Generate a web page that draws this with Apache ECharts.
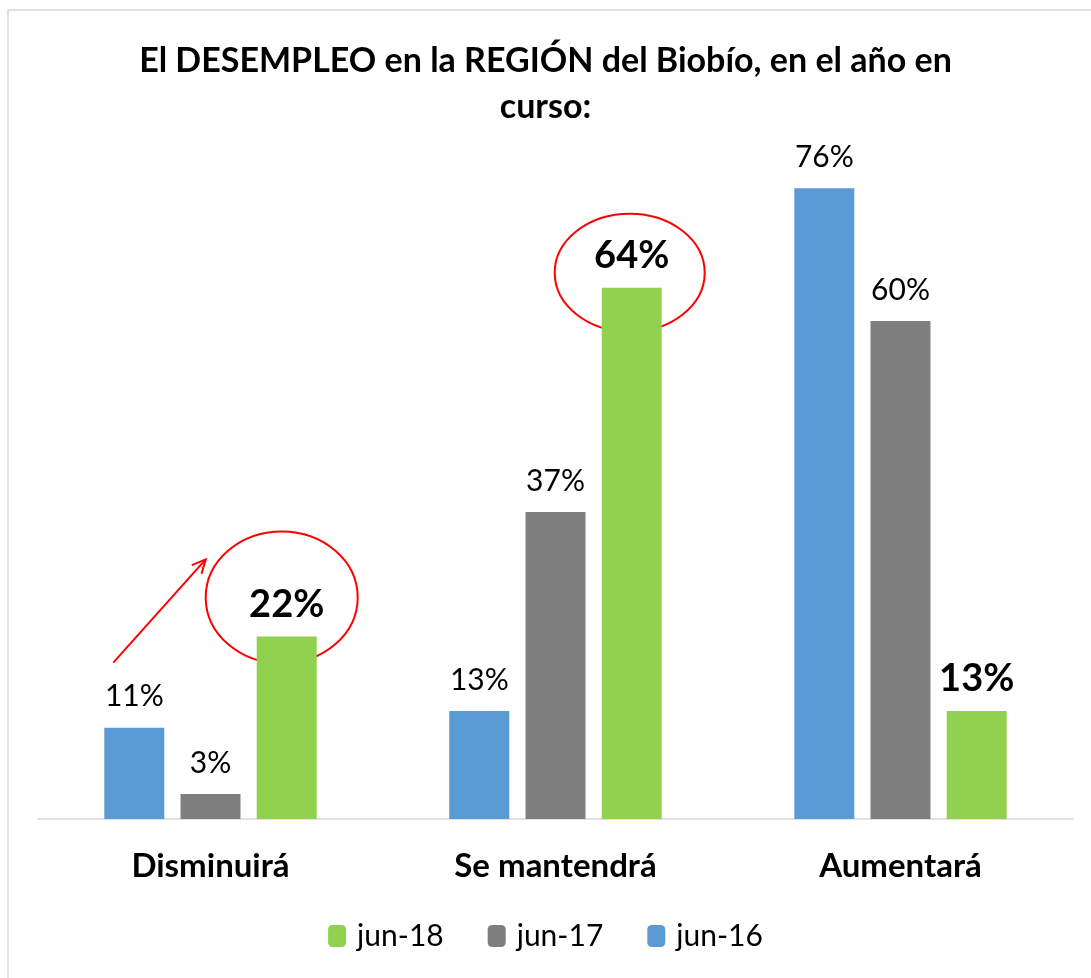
<!DOCTYPE html>
<html>
<head>
<meta charset="utf-8">
<script src="https://cdn.jsdelivr.net/npm/echarts@6/dist/echarts.min.js"></script>
<style>
  html, body { margin: 0; padding: 0; background: #fff; }
  #chart { width: 1091px; height: 978px; }
</style>
</head>
<body>
<div id="chart"></div>
<script>
// categorias y valores (%)
var categorias = ['Disminuirá', 'Se mantendrá', 'Aumentará'];
var jun16 = [11, 13, 76];
var jun17 = [3, 37, 60];
var jun18 = [22, 64, 13];
var ordenLeyenda = ['jun-18', 'jun-17', 'jun-16'];

var fuente = 'Lato, "Open Sans", sans-serif';
var anchoBarra = 60;
var separacion = 0.27; // barGap

var myChart = echarts.init(document.getElementById('chart'));

function etiqueta(bold, size, dist) {
	return {
		show: true,
		position: 'top',
		distance: dist,
		formatter: '{c}%',
		color: '#000',
		fontFamily: fuente,
		fontWeight: bold ? 'bold' : 'normal',
		fontSize: size
	};
}

var option = {
	color: ['#5B9BD5', '#7F7F7F', '#92D050'],
	title: {
		text: 'El DESEMPLEO en la REGIÓN del Biobío, en el año en\ncurso:',
		left: 'center',
		top: 33,
		textStyle: {
			fontFamily: fuente,
			fontWeight: 'bold',
			fontSize: 34,
			lineHeight: 46,
			color: '#000'
		}
	},
	legend: {
		data: ordenLeyenda,
		bottom: 22,
		left: 'center',
		itemWidth: 18,
		itemHeight: 22,
		itemGap: 44,
		textStyle: { fontFamily: fuente, fontSize: 30, color: '#000', padding: [0, 0, 0, 6] }
	},
	grid: { left: 38, right: 18, top: 155, bottom: 159 },
	xAxis: {
		type: 'category',
		data: categorias,
		axisTick: { show: false },
		axisLine: { lineStyle: { color: '#D9D9D9', width: 1.5 } },
		axisLabel: {
			margin: 31,
			fontFamily: fuente,
			fontWeight: 'bold',
			fontSize: 33,
			color: '#000'
		}
	},
	yAxis: {
		type: 'value',
		min: 0,
		max: 80,
		show: false,
		splitLine: { show: false }
	},
	series: [
		{
			name: 'jun-16', type: 'bar', data: jun16,
			barWidth: anchoBarra, barGap: (separacion * 100) + '%',
			label: etiqueta(false, 30, 16)
		},
		{
			name: 'jun-17', type: 'bar', data: jun17,
			barWidth: anchoBarra, barGap: (separacion * 100) + '%',
			label: etiqueta(false, 30, 16)
		},
		{
			name: 'jun-18', type: 'bar', data: jun18,
			barWidth: anchoBarra, barGap: (separacion * 100) + '%',
			label: etiqueta(true, 38, 13)
		}
	]
};
myChart.setOption(option);

// anotaciones rojas: elipses alrededor de las etiquetas y flecha
var paso = anchoBarra * (1 + separacion);
function punto(cat, valor, serie) {
	var p = myChart.convertToPixel({ xAxisIndex: 0, yAxisIndex: 0 }, [cat, valor]);
	return [p[0] + (serie - 1) * paso, p[1]];
}
var p22 = punto(0, jun18[0], 2);
var p64 = punto(1, jun18[1], 2);
var p11 = punto(0, jun16[0], 0);
var c1 = [p22[0] - 5, p22[1] - 39];
var c2 = [p64[0] - 2, p64[1] - 15];
var inicio = [p11[0] - 21, p11[1] - 65];
var fin = [p22[0] - 81, p22[1] - 77];

var ang = Math.atan2(fin[1] - inicio[1], fin[0] - inicio[0]);
var largo = 15;
var punta1 = [fin[0] - largo * Math.cos(ang - 0.45), fin[1] - largo * Math.sin(ang - 0.45)];
var punta2 = [fin[0] - largo * Math.cos(ang + 0.45), fin[1] - largo * Math.sin(ang + 0.45)];

myChart.setOption({
	graphic: [
		{
			type: 'rect', silent: true, z: -1,
			shape: { x: 8, y: 10, width: 1100, height: 1000 },
			style: { fill: 'none', stroke: '#D9D9D9', lineWidth: 1.5 }
		},
		{
			type: 'ellipse', silent: true,
			shape: { cx: c1[0], cy: c1[1], rx: 76, ry: 66 },
			style: { fill: 'none', stroke: '#FF0000', lineWidth: 2 }
		},
		{
			type: 'ellipse', silent: true,
			shape: { cx: c2[0], cy: c2[1], rx: 75, ry: 59 },
			style: { fill: 'none', stroke: '#FF0000', lineWidth: 2 }
		},
		{
			type: 'polyline', silent: true,
			shape: { points: [inicio, fin] },
			style: { fill: 'none', stroke: '#FF0000', lineWidth: 2 }
		},
		{
			type: 'polyline', silent: true,
			shape: { points: [punta1, fin, punta2] },
			style: { fill: 'none', stroke: '#FF0000', lineWidth: 2 }
		}
	]
});
</script>
</body>
</html>
